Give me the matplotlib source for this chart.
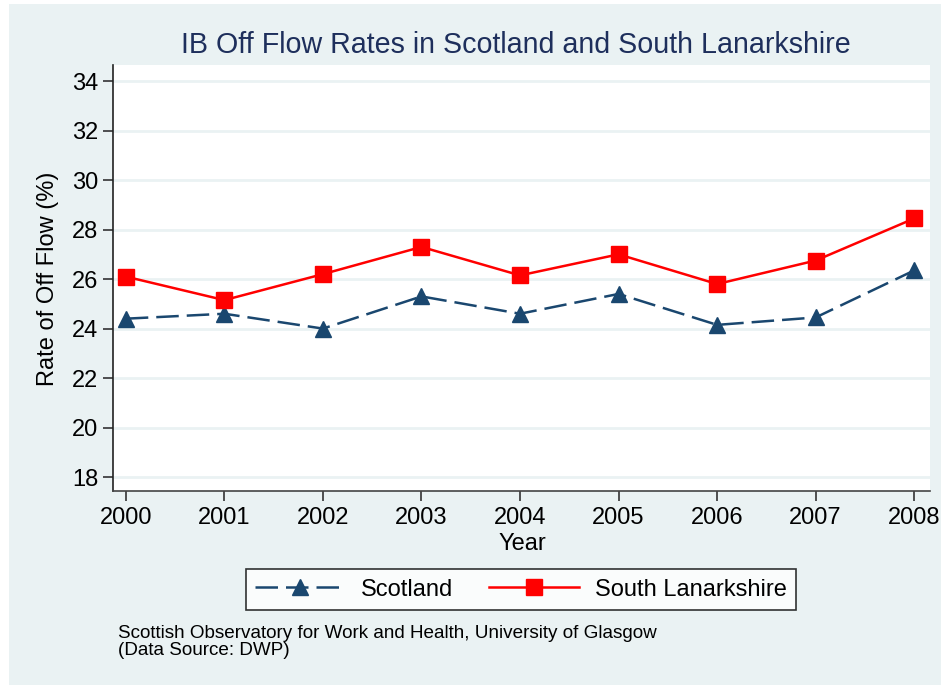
import matplotlib.pyplot as plt
from matplotlib.patches import Rectangle

plt.rcParams['font.family'] = ['Liberation Sans', 'DejaVu Sans']

# Data
years = [2000, 2001, 2002, 2003, 2004, 2005, 2006, 2007, 2008]
scotland = [24.4, 24.6, 24.0, 25.3, 24.6, 25.4, 24.15, 24.45, 26.35]
south_lanarkshire = [26.1, 25.15, 26.2, 27.3, 26.15, 27.0, 25.8, 26.75, 28.45]
y_ticks = [18, 20, 22, 24, 26, 28, 30, 32, 34]

bg = '#EAF2F3'
navy = '#1A476F'
red = '#FF0000'

W, H = 941, 685
fig = plt.figure(figsize=(W / 100, H / 100), dpi=100, facecolor='white')
fig.patches.append(Rectangle((9 / W, 0), 1 - 9 / W, 1 - 4 / H,
                             transform=fig.transFigure, facecolor=bg,
                             edgecolor='none', zorder=-10))

ax = fig.add_axes([113 / W, 1 - 490.7 / H, (930 - 113) / W, (490.7 - 65) / H])
ax.set_facecolor('white')

ax.plot(years, scotland, color=navy, lw=1.8, dashes=(9, 3.2),
        marker='^', markersize=11, label='Scotland', zorder=3)
ax.plot(years, south_lanarkshire, color=red, lw=1.8,
        marker='s', markersize=11, label='South Lanarkshire', zorder=3)

ax.set_xlim(1999.87, 2008.16)
ax.set_ylim(17.45, 34.65)
ax.set_xticks(years)
ax.set_yticks(y_ticks)
ax.tick_params(axis='both', labelsize=17, colors='#333333', labelcolor='black',
               length=7, width=1.2)
ax.tick_params(axis='x', pad=5)
ax.yaxis.grid(True, color=bg, lw=2)
ax.set_axisbelow(True)
for s in ['top', 'right']:
    ax.spines[s].set_visible(False)
ax.spines['left'].set_color('#222222')
ax.spines['bottom'].set_color('#444444')
ax.spines['left'].set_linewidth(1.2)
ax.spines['bottom'].set_linewidth(1.2)

fig.text(516 / W, 1 - 45 / H, 'IB Off Flow Rates in Scotland and South Lanarkshire',
         ha='center', va='center', fontsize=20.6, color='#1E2F5C')
fig.text(48 / W, 1 - 279 / H, 'Rate of Off Flow (%)', rotation=90,
         ha='center', va='center', fontsize=17)
fig.text(522 / W, 1 - 544 / H, 'Year', ha='center', va='center', fontsize=17)

leg = fig.legend(loc='center', bbox_to_anchor=(521 / W, 1 - 589.5 / H),
                 ncol=2, fontsize=17, frameon=True, fancybox=False,
                 edgecolor='black', handlelength=3.8, handletextpad=0.68,
                 columnspacing=1.5, borderpad=0.4, borderaxespad=0)
leg.get_frame().set_linewidth(1.2)
leg.get_frame().set_facecolor('white')

fig.text(118 / W, 1 - 642 / H,
         'Scottish Observatory for Work and Health, University of Glasgow\n(Data Source: DWP)',
         ha='left', va='center', fontsize=13.6, linespacing=0.95)

fig.savefig('out.png', dpi=100, facecolor=fig.get_facecolor())
